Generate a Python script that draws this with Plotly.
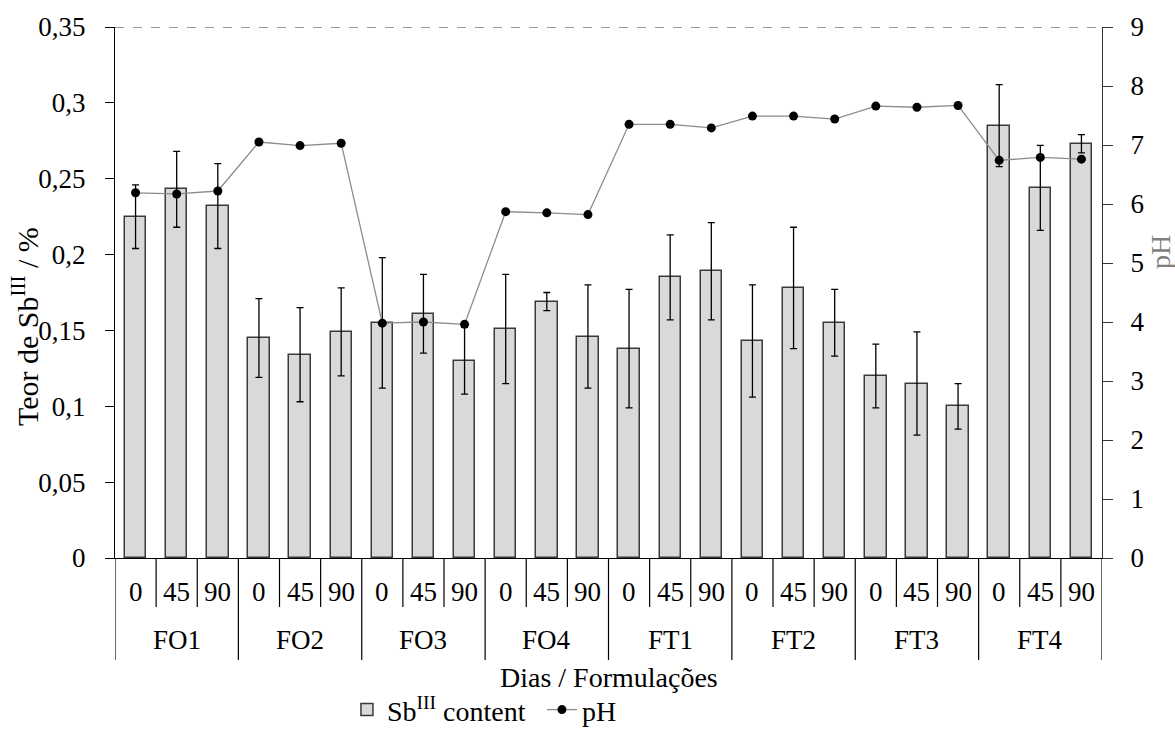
import plotly.graph_objects as go

# Formulations and storage days
formulations = ["FO1", "FO2", "FO3", "FO4", "FT1", "FT2", "FT3", "FT4"]
days = ["0", "45", "90"]

# Sb(III) content (%) per formulation/day, with standard deviations
sb_content = [0.225, 0.243, 0.232,
              0.145, 0.134, 0.149,
              0.155, 0.161, 0.130,
              0.151, 0.169, 0.146,
              0.138, 0.185, 0.189,
              0.143, 0.178, 0.155,
              0.120, 0.115, 0.100,
              0.285, 0.244, 0.273]
sb_error = [0.021, 0.025, 0.028,
            0.026, 0.031, 0.029,
            0.043, 0.026, 0.022,
            0.036, 0.006, 0.034,
            0.039, 0.028, 0.032,
            0.037, 0.040, 0.022,
            0.021, 0.034, 0.015,
            0.027, 0.028, 0.006]

# pH per formulation/day
ph = [6.19, 6.17, 6.22,
      7.05, 6.99, 7.03,
      3.98, 4.00, 3.96,
      5.87, 5.85, 5.82,
      7.35, 7.35, 7.29,
      7.49, 7.49, 7.44,
      7.66, 7.64, 7.67,
      6.74, 6.79, 6.76]

# Axis tick values / labels
left_ticks = [0, 0.05, 0.10, 0.15, 0.20, 0.25, 0.30, 0.35]
left_labels = ["0", "0,05", "0,1", "0,15", "0,2", "0,25", "0,3", "0,35"]
right_ticks = [0, 1, 2, 3, 4, 5, 6, 7, 8, 9]

FONT = "'Liberation Serif', 'Times New Roman', serif"
FS = 27        # tick / category labels
FS_TITLE = 28  # axis titles and legend

n_days = len(days)
x_pos = [g * n_days + d for g in range(len(formulations)) for d in range(n_days)]
n_cat = len(x_pos)

# plot area geometry (pixels)
PLOT_H = 531
PLOT_W = 987

fig = go.Figure()

fig.add_trace(go.Bar(
    x=x_pos, y=sb_content,
    name="Sb<sup>III</sup> content",
    width=0.52,
    marker=dict(color="#d9d9d9", line=dict(color="#3a3a3a", width=1.5)),
    error_y=dict(type="data", array=sb_error, visible=True,
                 color="black", thickness=1.3, width=3.5),
    yaxis="y",
))

fig.add_trace(go.Scatter(
    x=x_pos, y=ph,
    name="pH",
    mode="lines+markers",
    line=dict(color="#8c8c8c", width=1.3),
    marker=dict(color="black", size=9),
    yaxis="y2",
))

shapes = []
# dashed line along the top of the value range
shapes.append(dict(type="line", xref="paper", yref="y", x0=0, x1=1,
                   y0=left_ticks[-1], y1=left_ticks[-1],
                   line=dict(color="#333333", width=1.2, dash="dash")))

# category separators below the x axis
day_sep_depth = -49 / PLOT_H
group_sep_depth = -102 / PLOT_H
for i in range(n_cat + 1):
    b = i - 0.5
    is_group = (i % n_days == 0)
    shapes.append(dict(type="line", xref="x", yref="paper",
                       x0=b, x1=b, y0=0,
                       y1=group_sep_depth if is_group else day_sep_depth,
                       line=dict(color="black", width=1.2)))

annotations = []
for i, xp in enumerate(x_pos):
    annotations.append(dict(x=xp, y=-33.5 / PLOT_H, xref="x", yref="paper",
                            text=days[i % n_days], showarrow=False,
                            xanchor="center", yanchor="middle",
                            font=dict(family=FONT, size=FS, color="black")))
for g, name in enumerate(formulations):
    annotations.append(dict(x=g * n_days + (n_days - 1) / 2, y=-82 / PLOT_H,
                            xref="x", yref="paper", text=name, showarrow=False,
                            xanchor="center", yanchor="middle",
                            font=dict(family=FONT, size=FS, color="black")))
annotations.append(dict(x=0.5, y=-119 / PLOT_H, xref="paper", yref="paper",
                        text="Dias / Formulações", showarrow=False,
                        xanchor="center", yanchor="middle",
                        font=dict(family=FONT, size=FS_TITLE, color="black")))
annotations.append(dict(x=-90 / PLOT_W, y=(558 - 327) / PLOT_H, xref="paper", yref="paper",
                        text="Teor de Sb<sup>III</sup> / %", showarrow=False,
                        textangle=-90, xanchor="center", yanchor="middle",
                        font=dict(family=FONT, size=30, color="black")))
annotations.append(dict(x=(1160 - 115) / PLOT_W, y=(558 - 252) / PLOT_H,
                        xref="paper", yref="paper",
                        text="pH", showarrow=False,
                        textangle=-90, xanchor="center", yanchor="middle",
                        font=dict(family=FONT, size=FS_TITLE, color="#7f7f7f")))

fig.update_layout(
    width=1175, height=740,
    margin=dict(l=115, r=73, t=27, b=182, autoexpand=False),
    plot_bgcolor="white", paper_bgcolor="white",
    font=dict(family=FONT, size=FS, color="black"),
    bargap=0,
    showlegend=True,
    legend=dict(orientation="h", x=0.235, xanchor="left",
                y=-0.239, yanchor="top",
                font=dict(family=FONT, size=FS_TITLE, color="black"),
                itemwidth=30, entrywidth=150, bgcolor="rgba(0,0,0,0)"),
    xaxis=dict(range=[-0.5, n_cat - 0.5], showticklabels=False, ticks="",
               showgrid=False, zeroline=False, showline=True,
               linecolor="black", linewidth=1.2),
    yaxis=dict(range=[0, 0.35], tickvals=left_ticks, ticktext=left_labels,
               ticks="outside", ticklen=9, tickcolor="black", tickwidth=1.2,
               showline=True, linecolor="black", linewidth=1.2,
               showgrid=False, zeroline=False, ticklabelstandoff=14,
               tickfont=dict(family=FONT, size=FS, color="black")),
    yaxis2=dict(range=[0, 9], tickvals=right_ticks, overlaying="y", side="right",
                ticks="outside", ticklen=10, tickcolor="#333333", tickwidth=1.2,
                showline=True, linecolor="#333333", linewidth=1.2,
                showgrid=False, zeroline=False, ticklabelstandoff=12,
                tickfont=dict(family=FONT, size=FS, color="black")),
    shapes=shapes,
    annotations=annotations,
)

fig.write_html("out.html")
